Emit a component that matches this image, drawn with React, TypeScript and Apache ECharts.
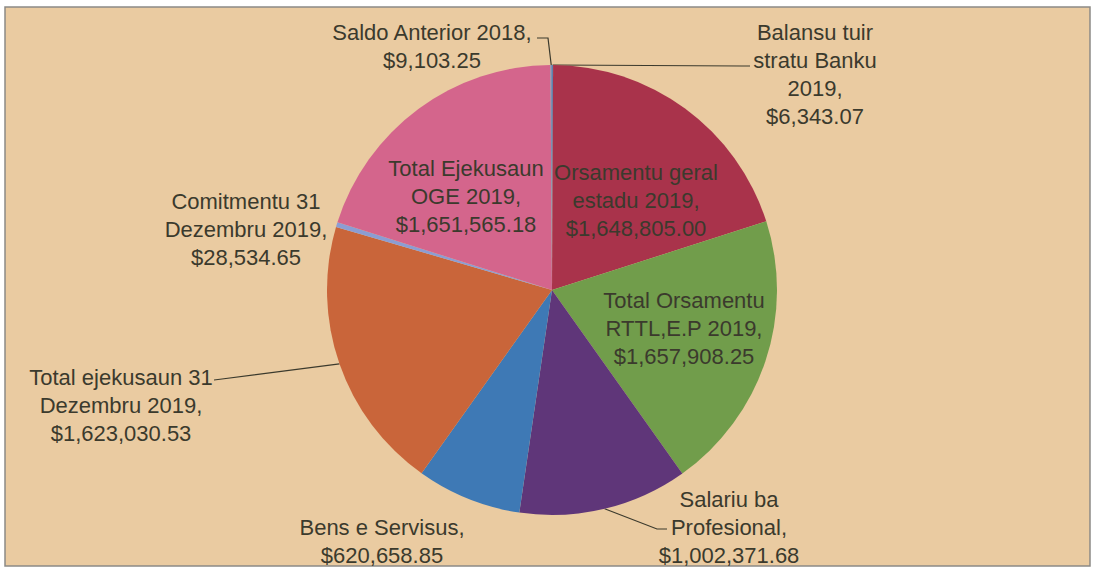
import React, { useEffect, useRef } from 'react';
import * as echarts from 'echarts';

// ---- data ----
const CATEGORIES: string[] = [
  'Balansu tuir\nstratu Banku\n2019',
  'Orsamentu geral\nestadu 2019',
  'Total Orsamentu\nRTTL,E.P 2019',
  'Salariu ba\nProfesional',
  'Bens e Servisus',
  'Total ejekusaun 31\nDezembru 2019',
  'Comitmentu 31\nDezembru 2019',
  'Total Ejekusaun\nOGE 2019',
  'Saldo Anterior 2018',
];
const VALUES: number[] = [
  6343.07, 1648805.0, 1657908.25, 1002371.68, 620658.85, 1623030.53, 28534.65, 1651565.18, 9103.25,
];

// ---- styles / layout ----
const COLORS: string[] = [
  '#5F80AA', '#A9334B', '#719D4B', '#5F3679', '#3E79B5', '#C9653A', '#8B9DD3', '#D4658C', '#7890B6',
];
const PIE_CX = 552;
const PIE_CY = 290;
const PIE_R = 225;
// centre of each label block (px)
const LABEL_X: number[] = [815, 636, 684, 729, 382, 121, 246, 466, 432];
const LABEL_Y: number[] = [74, 200, 328, 527, 541, 405, 229, 196, 46];
// leader line elbow + end points (null = no leader)
const LEADERS: (number[][] | null)[] = [
  [[742, 66], [750, 66]],
  null,
  null,
  [[657, 529], [667, 529]],
  null,
  [[222, 379], [214, 380]],
  null,
  null,
  [[548, 38], [537, 38]],
];
const TEXT_COLOR = '#3B3A2D';

const fmt = (v: number) =>
  '$' + v.toLocaleString('en-US', { minimumFractionDigits: 2, maximumFractionDigits: 2 });

function edgePoint(i: number): number[] {
  const total = VALUES.reduce((a, b) => a + b, 0);
  let before = 0;
  for (let k = 0; k < i; k++) before += VALUES[k];
  const mid = ((before + VALUES[i] / 2) / total) * Math.PI * 2;
  return [PIE_CX + PIE_R * Math.sin(mid), PIE_CY - PIE_R * Math.cos(mid)];
}

export default function App() {
  const ref = useRef<HTMLDivElement>(null);
  useEffect(() => {
    if (!ref.current) return;
    const chart = echarts.init(ref.current, undefined, { renderer: 'svg' });
    chart.setOption({
      animation: false,
      backgroundColor: '#ffffff',
      graphic: [
        {
          type: 'rect',
          z: -10,
          shape: { x: 5, y: 7, width: 1085, height: 559 },
          style: { fill: '#EACBA1', stroke: '#8C8A86', lineWidth: 1.5 },
        },
      ],
      series: [
        {
          type: 'pie',
          center: [PIE_CX, PIE_CY],
          radius: PIE_R,
          startAngle: 90,
          clockwise: true,
          avoidLabelOverlap: false,
          itemStyle: { borderWidth: 0 },
          label: {
            show: true,
            position: 'outside',
            overflow: 'none',
            formatter: (p: any) => `${p.name},\n${fmt(p.value)}`,
            fontFamily: '"Liberation Sans", Arial, sans-serif',
            fontSize: 22,
            lineHeight: 28,
            color: TEXT_COLOR,
            align: 'center',
          },
          labelLine: {
            show: true,
            lineStyle: { color: TEXT_COLOR, width: 1.2 },
          },
          labelLayout: (params: any) => {
            const i = params.dataIndex;
            const res: any = {
              x: LABEL_X[i],
              y: LABEL_Y[i],
              align: 'center',
              verticalAlign: 'middle',
            };
            const lead = LEADERS[i];
            if (lead) res.labelLinePoints = [edgePoint(i), ...lead];
            return res;
          },
          data: CATEGORIES.map((name, i) => ({
            name,
            value: VALUES[i],
            itemStyle: { color: COLORS[i] },
            labelLine: { show: LEADERS[i] != null },
          })),
        },
      ],
    });
    return () => chart.dispose();
  }, []);
  return (
    <div
      ref={ref}
      style={{ position: 'fixed', left: 0, top: 0, width: 1095, height: 573 }}
    />
  );
}
